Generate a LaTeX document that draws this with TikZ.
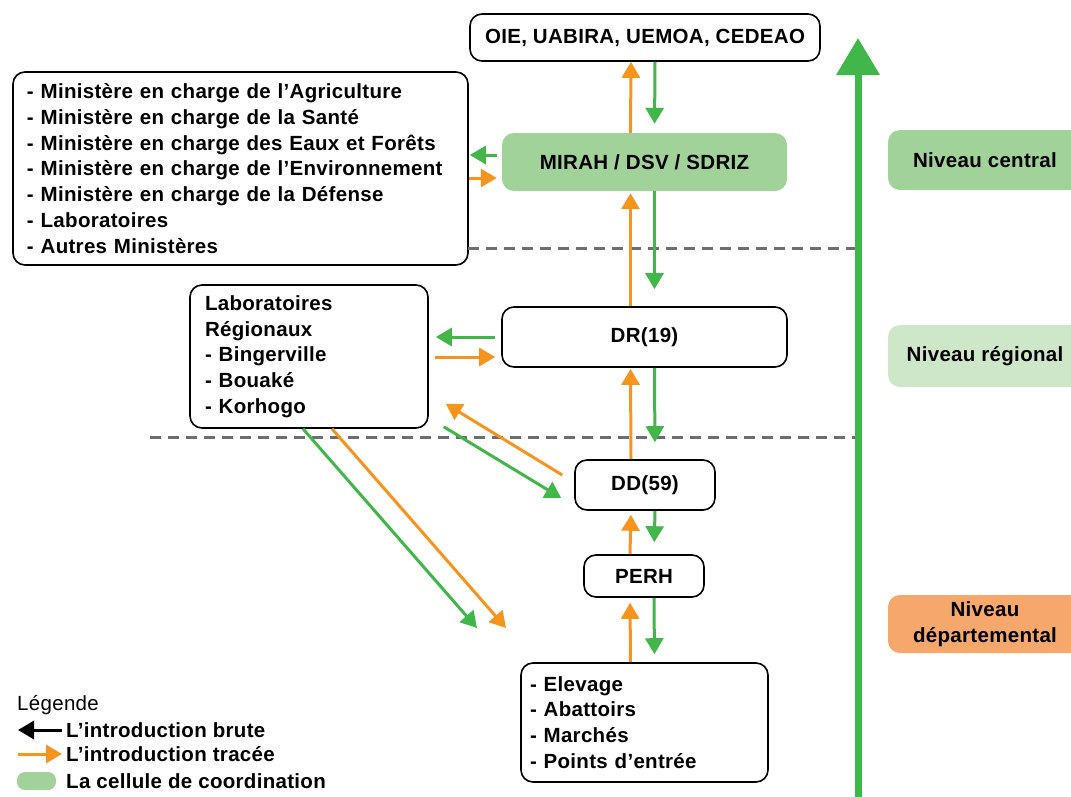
\documentclass[tikz,border=0pt]{standalone}
\usepackage{fontspec}
\setmainfont{Liberation Sans}[LetterSpace=1.5]
\usetikzlibrary{arrows.meta}
\definecolor{arrgreen}{HTML}{41B649}
\definecolor{arrorange}{HTML}{F7941D}
\definecolor{cellgreen}{HTML}{A0D29A}
\definecolor{reggreen}{HTML}{CDE7C8}
\definecolor{deporange}{HTML}{F6A76C}
\definecolor{sepgray}{HTML}{6D6E71}

\begin{document}
\begin{tikzpicture}[x=1pt,y=-1pt,
  font=\fontsize{20.5}{25.7}\selectfont\bfseries,
  box/.style={draw, line width=1.6pt, rounded corners=12pt, inner sep=0pt},
  listbox/.style={box, align=left, inner ysep=0pt},
  cell/.style={fill=cellgreen, rounded corners=12pt, inner sep=0pt},
  level/.style={rounded corners=12pt, minimum width=194pt, inner sep=0pt, align=center},
  garr/.style={draw=arrgreen, line width=3pt, -{Triangle[length=16pt,width=18pt]}},
  oarr/.style={draw=arrorange, line width=3pt, -{Triangle[length=16pt,width=18pt]}},
  sep/.style={draw=sepgray, line width=3pt, dash pattern=on 11pt off 7pt}]
\useasboundingbox (0,0) rectangle (1071,796);

\node[box, minimum width=350pt, minimum height=47pt] (oie) at (645,37.5) {OIE, UABIRA, UEMOA, CEDEAO};
\node[listbox, text width=427pt, inner xsep=14pt, minimum height=193pt] (min) at (240.5,168.5)
  {- Minist\`ere en charge de l'Agriculture\\
   - Minist\`ere en charge de la Sant\'e\\
   - Minist\`ere en charge des Eaux et For\^ets\\
   - Minist\`ere en charge de l'Environnement\\
   - Minist\`ere en charge de la D\'efense\\
   - Laboratoires\\
   - Autres Minist\`eres};
\node[cell, minimum width=285pt, minimum height=58pt] (mirah) at (644.5,162) {MIRAH / DSV / SDRIZ};
\node[box, minimum width=285pt, minimum height=60pt] (dr) at (644.5,337) {DR(19)};
\node[listbox, text width=208pt, inner xsep=15pt, minimum height=143pt] (labs) at (309,356.5)
  {Laboratoires\\ R\'egionaux\\ - Bingerville\\ - Bouak\'e\\ - Korhogo};
\node[box, minimum width=140pt, minimum height=50pt] (dd) at (645,485) {DD(59)};
\node[box, minimum width=120pt, minimum height=42pt] (perh) at (644,576) {PERH};
\node[listbox, text width=229pt, inner xsep=9pt, minimum height=119pt] (elev) at (644.5,722.5)
  {- Elevage\\ - Abattoirs\\ - March\'es\\ - Points d'entr\'ee};

\node[level, fill=cellgreen, minimum height=60pt] (central) at (985,160) {Niveau central};
\node[level, fill=reggreen, minimum height=62pt] (regional) at (985,356) {Niveau r\'egional};
\node[level, fill=deporange, minimum height=58pt] (dept) at (985,624) {Niveau\\ d\'epartemental};

\draw[sep] (468,248) -- (858,248);
\draw[sep] (150,437) -- (858,437);
\draw[draw=arrgreen, line width=7pt, -{Triangle[length=37pt,width=42pt]}] (858,800) -- (858,38);

\draw[oarr] ([xshift=-14pt]mirah.north) -- ([xshift=-14pt]oie.south);
\draw[garr, shorten >=9pt] ([xshift=10pt]oie.south) -- ([xshift=10pt]mirah.north);
\draw[garr] ([xshift=-5pt,yshift=7pt]mirah.west) -- ([xshift=1pt,yshift=13.5pt]min.east);
\draw[oarr] ([yshift=-9.5pt]min.east) -- ([xshift=-5pt,yshift=-16pt]mirah.west);

\draw[oarr, shorten >=2pt] ([xshift=-14pt]dr.north) -- ([xshift=-14pt]mirah.south);
\draw[garr, shorten >=17pt] ([xshift=10pt]mirah.south) -- ([xshift=10pt]dr.north);
\draw[garr] ([xshift=-6pt]dr.west) -- ([xshift=7pt,yshift=19.5pt]labs.east);
\draw[oarr] ([xshift=6pt,yshift=-0.5pt]labs.east) -- ([xshift=-6pt,yshift=-20pt]dr.west);

\draw[oarr, shorten >=1pt] ([xshift=-14pt]dd.north) -- ([xshift=-14pt]dr.south);
\draw[garr, shorten >=17pt] ([xshift=10pt]dr.south) -- ([xshift=10pt]dd.north);
\draw[oarr] ([xshift=-12pt,yshift=10pt]dd.west) -- ([xshift=17pt,yshift=25pt]labs.south east);
\draw[garr] ([xshift=15pt,yshift=2pt]labs.south east) -- ([xshift=-13pt,yshift=-13pt]dd.west);

\coordinate (gend) at (477,628);
\coordinate (oend) at (506,628);
\draw[garr] ([xshift=-6pt]labs.south) -- (gend);
\draw[oarr] ([xshift=23pt]labs.south) -- (oend);

\draw[oarr, shorten >=4pt] ([xshift=-14pt]perh.north) -- ([xshift=-14pt]dd.south);
\draw[garr, shorten >=12pt] ([xshift=10pt]dd.south) -- ([xshift=10pt]perh.north);
\draw[oarr, shorten >=5pt] ([xshift=-14pt]elev.north) -- ([xshift=-14pt]perh.south);
\draw[garr, shorten >=8pt] ([xshift=10pt]perh.south) -- ([xshift=10pt]elev.north);

\node[anchor=west, inner sep=0pt, font=\fontsize{20.5}{24}\selectfont] (leg) at (17,705) {L\'egende};
\node[anchor=west, inner sep=0pt] (lbrute) at (66,730) {L'introduction brute};
\node[anchor=west, inner sep=0pt] (ltrace) at (66,754) {L'introduction trac\'ee};
\node[anchor=west, inner sep=0pt] (lcell) at (66,781) {La cellule de coordination};
\draw[line width=3pt, -{Triangle[length=16pt,width=18pt]}] ([xshift=-4pt]lbrute.west) -- ([xshift=-48pt]lbrute.west);
\draw[oarr] ([xshift=-48pt]ltrace.west) -- ([xshift=-4pt]ltrace.west);
\node[cell, rounded corners=8pt, minimum width=39pt, minimum height=18pt] (pill) at (36.5,781) {};
\end{tikzpicture}
\end{document}
